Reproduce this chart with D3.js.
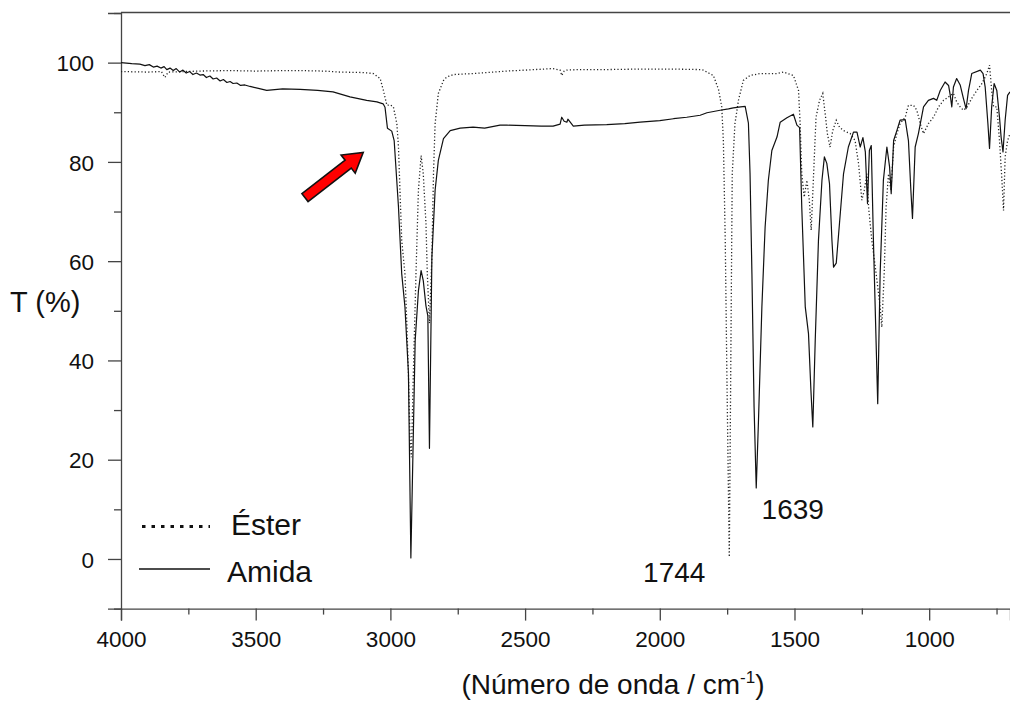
<!DOCTYPE html>
<html>
<head>
<meta charset="utf-8">
<script src="https://cdn.jsdelivr.net/npm/d3@7"></script>
<style>
  html, body { margin: 0; padding: 0; background: #fff; }
  text { font-family: "Liberation Sans", Arial, sans-serif; fill: #111; }
</style>
</head>
<body>
<div id="chart"></div>
<script>
// wavenumber (cm-1) / transmittance (%) pairs
const amidaWn = [4000, 3960, 3930, 3911, 3895, 3880, 3866, 3852, 3840, 3830, 3818, 3806, 3795, 3782, 3770, 3758, 3745, 3733, 3720, 3707, 3695, 3683, 3670, 3658, 3645, 3632, 3620, 3607, 3595, 3584, 3570, 3556, 3540, 3521, 3490, 3459, 3400, 3335, 3270, 3213, 3150, 3088, 3050, 3027, 3020, 3011, 2995, 2986, 2970, 2958, 2946, 2933, 2924, 2908, 2896, 2886, 2878, 2868, 2861, 2855, 2846, 2834, 2822, 2803, 2778, 2741, 2693, 2650, 2593, 2568, 2500, 2440, 2396, 2370, 2364, 2355, 2345, 2341, 2321, 2280, 2197, 2130, 2073, 2000, 1949, 1900, 1850, 1825, 1776, 1745, 1727, 1700, 1683, 1671, 1665, 1658, 1650, 1642, 1634, 1621, 1609, 1597, 1584, 1565, 1553, 1528, 1504, 1491, 1481, 1473, 1460, 1448, 1439, 1432, 1423, 1411, 1398, 1389, 1380, 1370, 1361, 1355, 1345, 1333, 1318, 1300, 1281, 1268, 1256, 1246, 1237, 1229, 1222, 1215, 1207, 1194, 1191, 1182, 1170, 1157, 1147, 1141, 1132, 1120, 1108, 1089, 1077, 1068, 1062, 1052, 1040, 1021, 1003, 984, 972, 959, 941, 928, 922, 916, 910, 898, 885, 873, 863, 854, 842, 810, 800, 792, 782, 776, 768, 759, 749, 739, 733, 726, 718, 709, 700];
const amidaT = [100, 99.8, 99.7, 99.4, 99.6, 99.1, 99.3, 98.9, 99.2, 98.6, 98.9, 98.4, 98.8, 98.1, 98.5, 97.9, 98.2, 97.6, 97.9, 97.5, 97.6, 97.0, 97.3, 96.7, 96.9, 96.3, 96.6, 96.0, 96.2, 95.8, 95.9, 95.4, 95.5, 95.2, 94.8, 94.4, 94.7, 94.6, 94.4, 94.1, 93.1, 92.4, 92.1, 91.7, 91.0, 86.8, 86.2, 84.3, 70.9, 57.5, 50.8, 37.4, 0.2, 44, 54, 58.1, 56.1, 51, 49, 22.3, 60.8, 74.3, 80.3, 84.7, 86.3, 86.8, 87.0, 86.8, 87.4, 87.4, 87.3, 87.2, 87.2, 87.6, 89.0, 88.2, 88.0, 88.6, 87.2, 87.4, 87.5, 87.7, 88.0, 88.3, 88.7, 89.0, 89.4, 89.9, 90.4, 90.7, 90.9, 91.1, 91.2, 87.8, 77.7, 57.5, 30.6, 14.3, 27.3, 50.8, 66.9, 76.3, 82.3, 85, 88.0, 88.9, 89.6, 87.4, 86.9, 70.9, 50.8, 45.4, 34, 26.6, 44, 64.2, 76.3, 81, 79.7, 75.6, 64.2, 58.8, 59.6, 67.6, 77.6, 83, 86, 86, 83, 84.9, 82, 71.6, 82.3, 83.3, 64.2, 37.4, 31.3, 57.5, 76.3, 83, 79, 73.6, 84.3, 86.3, 88.4, 88.5, 84.3, 74.3, 68.6, 83, 85.7, 91.1, 92.4, 92.8, 92.4, 94.4, 96.1, 95.4, 93.5, 91.1, 95.1, 96.8, 95.5, 92.8, 90.7, 94.4, 97.8, 98.5, 97.8, 95, 87.7, 82.7, 91.1, 95.8, 94.4, 89, 85, 82, 88.4, 93.4, 94.1];

const esterWn = [4000, 3900, 3850, 3837, 3825, 3707, 3600, 3500, 3400, 3335, 3250, 3187, 3100, 3063, 3038, 3026, 3013, 3001, 2989, 2976, 2970, 2958, 2946, 2939, 2933, 2927, 2922, 2915, 2905, 2896, 2886, 2878, 2868, 2863, 2855, 2846, 2840, 2834, 2822, 2803, 2791, 2766, 2693, 2568, 2396, 2370, 2364, 2355, 2345, 2300, 2197, 2073, 1949, 1850, 1839, 1801, 1782, 1770, 1764, 1757, 1751, 1742, 1737, 1733, 1731, 1721, 1708, 1690, 1665, 1628, 1566, 1541, 1504, 1485, 1479, 1473, 1464, 1454, 1445, 1438, 1430, 1420, 1407, 1395, 1386, 1378, 1368, 1358, 1345, 1333, 1318, 1293, 1275, 1262, 1250, 1241, 1231, 1225, 1213, 1197, 1182, 1176, 1167, 1160, 1151, 1142, 1132, 1120, 1108, 1089, 1077, 1058, 1046, 1033, 1021, 1003, 984, 965, 947, 928, 910, 898, 885, 873, 860, 842, 823, 804, 786, 776, 768, 761, 749, 739, 730, 724, 718, 709, 700];
const esterT = [98.2, 98.1, 98.2, 97.0, 98.1, 98.3, 98.4, 98.3, 98.4, 98.4, 98.3, 98.1, 98.0, 97.8, 96.8, 94.4, 91.4, 91.5, 91.1, 87.7, 83, 64.2, 57.5, 47.4, 37.3, 23.9, 20.5, 37, 57.5, 74.3, 81.3, 77.6, 67.6, 57.5, 47.5, 60.8, 77.6, 87.7, 93.8, 96.4, 97.1, 97.6, 97.8, 98.3, 98.8, 98.5, 97.4, 98.3, 98.5, 98.6, 98.6, 98.7, 98.7, 98.6, 98.5, 97.4, 94.6, 91.1, 84.3, 64.2, 37.4, 0.4, 35, 64.2, 77.6, 87.7, 92.4, 96.4, 97.4, 97.8, 97.8, 98.1, 97.4, 94.4, 87.7, 77.6, 72.9, 76.3, 72.3, 66.2, 76.3, 89, 92.4, 93.8, 89.7, 85.7, 83, 86.3, 88.4, 87, 86.3, 85.7, 84.3, 79.6, 72.3, 74.3, 77.6, 70.9, 64.2, 57.5, 50.8, 46.7, 57.5, 70.9, 77.6, 74.3, 83, 85.7, 87.7, 89, 91.4, 91.4, 90.4, 87.7, 85.7, 87.7, 89, 91.1, 92.4, 93.1, 93.8, 92.1, 91.1, 90.4, 91, 92.8, 94.4, 95.8, 97.8, 99.5, 94.4, 91.1, 91.1, 84.3, 76.3, 70.2, 81, 84.3, 85.7];

const xMajor = [4000, 3500, 3000, 2500, 2000, 1500, 1000];
const xMinor = [3750, 3250, 2750, 2250, 1750, 1250, 750];
const yMajor = [0, 20, 40, 60, 80, 100];
const yMinor = [-10, 10, 30, 50, 70, 90, 110];

const seriesNames = ["Éster", "Amida"];
const peakLabels = [
  { text: "1744", wn: 2062, t: -4.7 },
  { text: "1639", wn: 1622, t: 8.0 }
];
// red arrow pointing at the N-H / C-H region (tail -> tip)
const arrowTail = { wn: 3317, t: 72.8 };
const arrowTip = { wn: 3101, t: 81.9 };

const W = 1010, H = 706;
const plot = { left: 121, right: 1010, top: 13, bottom: 608.6 };

const svg = d3.select("#chart").append("svg")
  .attr("width", W)
  .attr("height", H);

const x = d3.scaleLinear().domain([4000, 700]).range([plot.left, plot.right]);
const y = d3.scaleLinear().domain([-10, 110]).range([plot.bottom, plot.top]);

svg.append("clipPath").attr("id", "clip")
  .append("rect")
  .attr("x", plot.left).attr("y", plot.top)
  .attr("width", plot.right - plot.left).attr("height", plot.bottom - plot.top);

const axisColor = "#444";

// top frame line
svg.append("line")
  .attr("x1", plot.left).attr("x2", plot.right)
  .attr("y1", plot.top - 0.5).attr("y2", plot.top - 0.5)
  .attr("stroke", axisColor).attr("stroke-width", 1.3);

// x axis: major with labels, minor without
const gx = svg.append("g").attr("transform", `translate(0,${plot.bottom})`)
  .call(d3.axisBottom(x).tickValues(xMajor).tickSize(12).tickPadding(10).tickFormat(d3.format("d")));
svg.append("g").attr("transform", `translate(0,${plot.bottom})`)
  .call(d3.axisBottom(x).tickValues(xMinor).tickSize(6).tickFormat(""))
  .select(".domain").remove();

// y axis
const gy = svg.append("g").attr("transform", `translate(${plot.left},0)`)
  .call(d3.axisLeft(y).tickValues(yMajor).tickSize(13).tickPadding(14).tickFormat(d3.format("d")));
svg.append("g").attr("transform", `translate(${plot.left},0)`)
  .call(d3.axisLeft(y).tickValues(yMinor).tickSize(7).tickFormat(""))
  .select(".domain").remove();

svg.selectAll(".domain").attr("stroke", axisColor).attr("stroke-width", 1.3);
svg.selectAll(".tick line").attr("stroke", axisColor).attr("stroke-width", 1.3);
svg.selectAll(".tick text")
  .attr("font-size", 22.5)
  .attr("font-family", "Liberation Sans, Arial, sans-serif")
  .attr("fill", "#111");
gy.selectAll(".tick text").attr("dy", "0.36em");

// spectra
const line = d3.line()
  .x(d => x(d[0]))
  .y(d => y(d[1]));

const esterData = d3.zip(esterWn, esterT);
const amidaData = d3.zip(amidaWn, amidaT);

const curves = svg.append("g").attr("clip-path", "url(#clip)");
curves.append("path")
  .datum(esterData)
  .attr("d", line)
  .attr("fill", "none")
  .attr("stroke", "#222")
  .attr("stroke-width", 1.3)
  .attr("stroke-dasharray", "1.2,2.2");
curves.append("path")
  .datum(amidaData)
  .attr("d", line)
  .attr("fill", "none")
  .attr("stroke", "#111")
  .attr("stroke-width", 1.2)
  .attr("stroke-linejoin", "round");

// axis titles
svg.append("text")
  .attr("x", 613).attr("y", 694)
  .attr("text-anchor", "middle")
  .attr("font-size", 28)
  .html('(Número de onda / cm<tspan dy="-11" font-size="17">-1</tspan><tspan dy="11">)</tspan>');

svg.append("text")
  .attr("x", 10).attr("y", 312)
  .attr("font-size", 29)
  .text("T (%)");

// peak labels
svg.selectAll(".peak")
  .data(peakLabels)
  .enter().append("text")
  .attr("class", "peak")
  .attr("x", d => x(d.wn))
  .attr("y", d => y(d.t))
  .attr("font-size", 28)
  .text(d => d.text);

// legend
const legend = svg.append("g");
legend.append("line")
  .attr("x1", 142).attr("x2", 210).attr("y1", 526.5).attr("y2", 526.5)
  .attr("stroke", "#111").attr("stroke-width", 3.2)
  .attr("stroke-dasharray", "3.5,6");
legend.append("line")
  .attr("x1", 139).attr("x2", 210).attr("y1", 569).attr("y2", 569)
  .attr("stroke", "#111").attr("stroke-width", 1.5);
legend.append("text")
  .attr("x", 231).attr("y", 535)
  .attr("font-size", 30)
  .text(seriesNames[0]);
legend.append("text")
  .attr("x", 227).attr("y", 582)
  .attr("font-size", 30)
  .text(seriesNames[1]);

// red arrow
const p0 = [x(arrowTail.wn), y(arrowTail.t)];
const p1 = [x(arrowTip.wn), y(arrowTip.t)];
const dx = p1[0] - p0[0], dy = p1[1] - p0[1];
const len = Math.hypot(dx, dy);
const ux = dx / len, uy = dy / len;
const nx = -uy, ny = ux;
const shaftHalf = 5, headHalf = 11.5, headLen = 19;
const hb = [p1[0] - ux * headLen, p1[1] - uy * headLen];
const pts = [
  [p0[0] + nx * shaftHalf, p0[1] + ny * shaftHalf],
  [hb[0] + nx * shaftHalf, hb[1] + ny * shaftHalf],
  [hb[0] + nx * headHalf, hb[1] + ny * headHalf],
  p1,
  [hb[0] - nx * headHalf, hb[1] - ny * headHalf],
  [hb[0] - nx * shaftHalf, hb[1] - ny * shaftHalf],
  [p0[0] - nx * shaftHalf, p0[1] - ny * shaftHalf]
];
svg.append("polygon")
  .attr("points", pts.map(p => p.join(",")).join(" "))
  .attr("fill", "#ff0000")
  .attr("stroke", "#111")
  .attr("stroke-width", 1.6)
  .attr("stroke-linejoin", "miter");
</script>
</body>
</html>
